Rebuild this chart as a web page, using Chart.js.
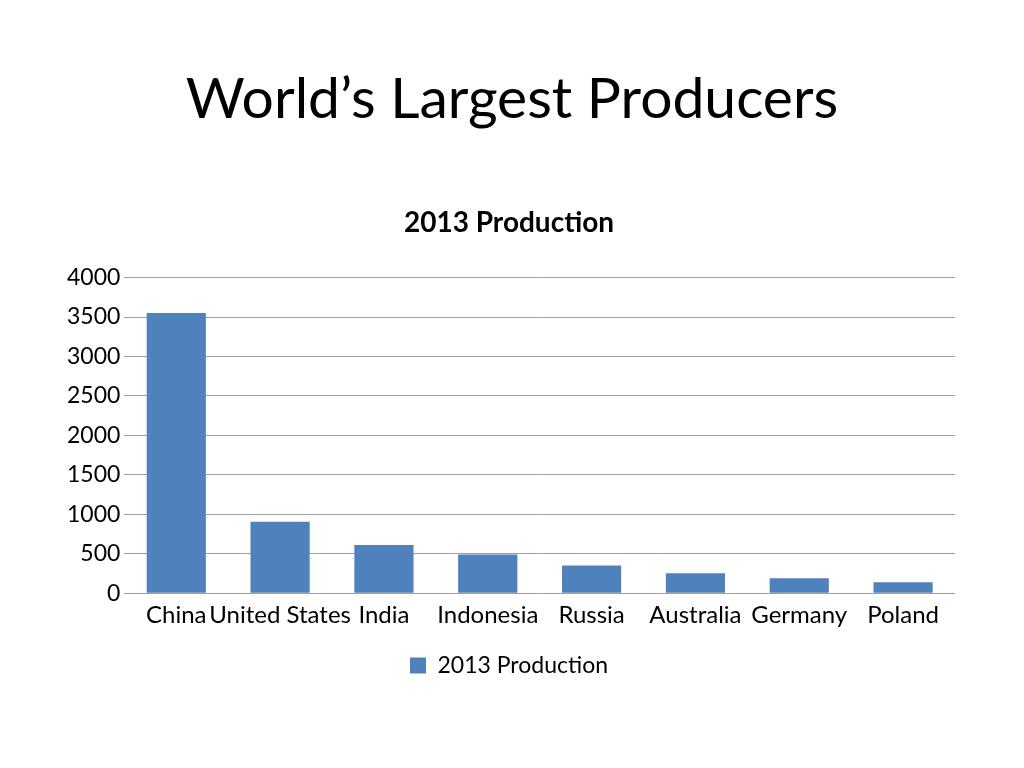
<!DOCTYPE html>
<html>
<head>
<meta charset="utf-8">
<script src="https://cdn.jsdelivr.net/npm/chart.js@4"></script>
<style>
	body { margin: 0; background: #fff; width: 1024px; height: 768px; overflow: hidden; }
	h1 {
		position: absolute; top: 62px; left: 0; width: 1024px; margin: 0;
		text-align: center; font-family: Lato, sans-serif; font-weight: 400;
		font-size: 57px; color: #000;
	}
	#wrap { position: absolute; top: 195px; left: 0; width: 1024px; height: 492px; }
</style>
</head>
<body>
<h1>World’s Largest Producers</h1>
<div id="wrap"><canvas id="coal-canvas"></canvas></div>
<script>
const countries = ["China", "United States", "India", "Indonesia", "Russia", "Australia", "Germany", "Poland"];
const production2013 = [3550, 904, 610, 489, 350, 252, 190, 140];
const yTicks = [0, 500, 1000, 1500, 2000, 2500, 3000, 3500, 4000];

Chart.defaults.font.family = "Lato";
Chart.defaults.color = "#000";

const coalCanvas = document.getElementById("coal-canvas").getContext("2d");

const coalChart = new Chart(coalCanvas, {
	type: "bar",

	data: {
		labels: countries,
		datasets: [
			{
				label: "2013 Production",
				backgroundColor: "#4f81bd",
				data: production2013,
				barPercentage: 0.57,
				categoryPercentage: 1,
			},
		],
	},

	options: {
		animation: false,
		responsive: true,
		maintainAspectRatio: false,
		layout: {
			padding: { left: 63, right: 69, top: 0, bottom: 0 },
		},
		plugins: {
			title: {
				display: true,
				text: "2013 Production",
				font: { size: 28, weight: "bold" },
				padding: { top: 11, bottom: 38 },
			},
			legend: {
				position: "bottom",
				labels: {
					font: { size: 23 },
					boxWidth: 16,
					boxHeight: 16,
					padding: 24,
				},
			},
			tooltip: { enabled: false },
		},
		scales: {
			x: {
				grid: { display: false },
				border: { display: false },
				ticks: { font: { size: 24 }, maxRotation: 0, autoSkip: false, padding: 0 },
			},
			y: {
				min: yTicks[0],
				max: yTicks[yTicks.length - 1],
				afterBuildTicks: (axis) => {
					axis.ticks = yTicks.map((v) => ({ value: v }));
				},
				grid: { color: "#a0a0a0", drawTicks: false },
				border: { display: false },
				ticks: { font: { size: 23 }, padding: 4, callback: (v) => String(v) },
			},
		},
	},
});
</script>
</body>
</html>
